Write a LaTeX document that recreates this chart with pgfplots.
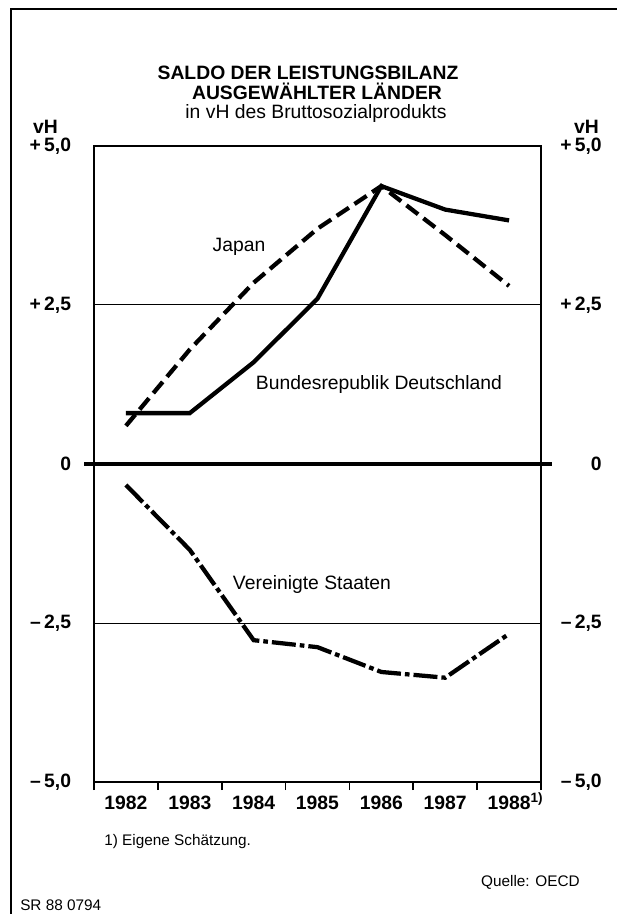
\documentclass[border=0pt]{standalone}
\usepackage{fontspec}
\setmainfont{Liberation Sans}
\usepackage{pgfplots}
\pgfplotsset{compat=1.18}
\newcommand{\fs}{\fontsize{14.5}{17}\selectfont}
\newcommand{\fsn}{\fontsize{11.5}{14}\selectfont}
\pgfplotsset{chartbase/.style={
  at={(70.5pt,-586.5pt)}, anchor=south west,
  scale only axis, width=335.25pt, height=477pt,
  xmin=0, xmax=7, ymin=-5, ymax=5,
  ytick={-5,-2.5,0,2.5,5},
  yticklabels={{\textendash\,5,0},{\textendash\,2,5},{0},{+\,2,5},{+\,5,0}},
}}
\begin{document}
\begin{tikzpicture}
\path[use as bounding box] (0,0) rectangle (462.75pt,-685.5pt);
\begin{axis}[chartbase,
  axis line style={line width=1.5pt},
  ytick style={draw=none},
  ymajorgrids, grid style={line width=0.75pt, black},
  yticklabel style={font=\bfseries\fs, anchor=east, inner sep=0pt, xshift=-17pt},
  xtick={0,1,2,3,4,5,6,7}, xtick pos=lower, xtick align=outside,
  major tick length=6pt, xtick style={line width=1.2pt, black},
  x tick label as interval,
  xticklabels={1982,1983,1984,1985,1986,1987,{1988\rlap{\textsuperscript{1)}}}},
  xticklabel style={font=\bfseries\fs, anchor=base, inner sep=0pt, yshift=-14.25pt},
  clip=false]
\draw[line width=3.5pt] ([xshift=-7.5pt]axis cs:0,0) -- ([xshift=8pt]axis cs:7,0);
% Bundesrepublik Deutschland
\addplot[line width=3.2pt, black] coordinates {(0.5,0.8) (1.5,0.8) (2.5,1.6) (3.5,2.6) (4.5,4.37) (5.5,4.0) (6.5,3.83)};
% Japan
\addplot[line width=3.2pt, black, dash pattern=on 11pt off 5pt] coordinates {(0.5,0.6) (1.5,1.8) (2.5,2.85) (3.5,3.7) (4.5,4.37) (5.5,3.6) (6.5,2.8)};
% Vereinigte Staaten
\addplot[line width=3.2pt, black, dash pattern=on 18pt off 3pt on 3.5pt off 3pt] coordinates {(0.5,-0.33) (1.5,-1.35) (2.5,-2.77) (3.5,-2.88) (4.5,-3.27) (5.5,-3.36) (6.5,-2.67)};
\end{axis}
\begin{axis}[chartbase,
  axis x line=none, axis y line*=right,
  y axis line style={draw=none}, ytick style={draw=none},
  yticklabel pos=right,
  yticklabel style={font=\bfseries\fs, anchor=east, inner sep=0pt, xshift=45.75pt}]
\end{axis}
\begin{scope}[x=0.75pt,y=-0.75pt]
\draw[line width=1.5pt] (11,9) -- (11,914);
\draw[line width=1.5pt] (10,9) -- (617,9);
\node[font=\bfseries\fs, anchor=base] at (308,79) {SALDO DER LEISTUNGSBILANZ};
\node[font=\bfseries\fs, anchor=base] at (317,99) {AUSGEWÄHLTER LÄNDER};
\node[font=\fs, anchor=base] at (316,118) {in vH des Bruttosozialprodukts};
\node[font=\bfseries\fs, anchor=base east, inner sep=0pt] at (58,133) {vH};
\node[font=\bfseries\fs, anchor=base east, inner sep=0pt] at (599,133) {vH};
\node[font=\fs, anchor=base] at (239,251) {Japan};
\node[font=\fs, anchor=base] at (379,389) {Bundesrepublik Deutschland};
\node[font=\fs, anchor=base] at (312,589) {Vereinigte Staaten};
\node[font=\fsn, anchor=base west, inner sep=0pt] at (104,845) {1) Eigene Schätzung.};
\node[font=\fsn, anchor=base east, inner sep=0pt] at (580,886) {Quelle: OECD};
\node[font=\fsn, anchor=base west, inner sep=0pt] at (20,910) {SR 88 0794};
\end{scope}
\end{tikzpicture}
\end{document}
